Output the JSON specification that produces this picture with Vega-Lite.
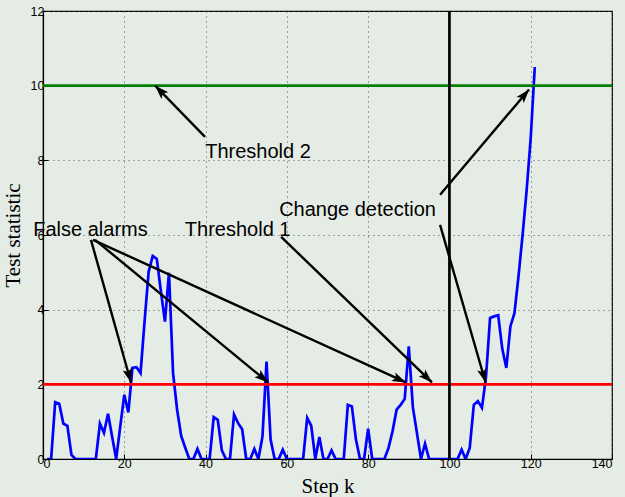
{
  "$schema": "https://vega.github.io/schema/vega-lite/v6.json",
  "width": 569,
  "height": 448,
  "autosize": "none",
  "padding": {"left": 43, "top": 11, "right": 13, "bottom": 38},
  "background": "#e5ece5",
  "config": {
    "view": {"stroke": "#000000", "strokeWidth": 1.2, "fill": "#e5ece5"},
    "axis": {
      "domainColor": "#000000", "domainWidth": 1.2,
      "tickColor": "#000000", "tickSize": -5, "tickWidth": 1,
      "gridColor": "#555555", "gridDash": [1, 4], "gridWidth": 1, "gridOpacity": 1,
      "labelFont": "Liberation Sans", "labelFontSize": 12.5, "labelColor": "#000000",
      "titleFont": "Liberation Serif", "titleFontSize": 21, "titleFontWeight": "normal", "titleColor": "#000000"
    }
  },
  "datasets": {
    "stat": [
      {"k":1,"v":0},{"k":2,"v":0},{"k":3,"v":1.52},{"k":4,"v":1.48},{"k":5,"v":0.95},{"k":6,"v":0.89},{"k":7,"v":0.11},{"k":8,"v":0},{"k":9,"v":0},{"k":10,"v":0},
      {"k":11,"v":0},{"k":12,"v":0},{"k":13,"v":0},{"k":14,"v":0.95},{"k":15,"v":0.7},{"k":16,"v":1.21},{"k":17,"v":0.6},{"k":18,"v":0},{"k":19,"v":0.86},{"k":20,"v":1.72},
      {"k":21,"v":1.25},{"k":22,"v":2.44},{"k":23,"v":2.46},{"k":24,"v":2.3},{"k":25,"v":3.7},{"k":26,"v":5.02},{"k":27,"v":5.44},{"k":28,"v":5.36},{"k":29,"v":4.5},{"k":30,"v":3.68},
      {"k":31,"v":4.99},{"k":32,"v":2.3},{"k":33,"v":1.32},{"k":34,"v":0.62},{"k":35,"v":0.3},{"k":36,"v":0},{"k":37,"v":0},{"k":38,"v":0.27},{"k":39,"v":0},{"k":40,"v":0},
      {"k":41,"v":0},{"k":42,"v":1.12},{"k":43,"v":1.05},{"k":44,"v":0.23},{"k":45,"v":0},{"k":46,"v":0},{"k":47,"v":1.19},{"k":48,"v":0.96},{"k":49,"v":0.8},{"k":50,"v":0},
      {"k":51,"v":0},{"k":52,"v":0.27},{"k":53,"v":0},{"k":54,"v":0.6},{"k":55,"v":2.61},{"k":56,"v":0.52},{"k":57,"v":0},{"k":58,"v":0},{"k":59,"v":0.25},{"k":60,"v":0},
      {"k":61,"v":0},{"k":62,"v":0},{"k":63,"v":0},{"k":64,"v":0},{"k":65,"v":1.1},{"k":66,"v":0.89},{"k":67,"v":0},{"k":68,"v":0.59},{"k":69,"v":0},{"k":70,"v":0},
      {"k":71,"v":0.23},{"k":72,"v":0},{"k":73,"v":0},{"k":74,"v":0},{"k":75,"v":1.45},{"k":76,"v":1.41},{"k":77,"v":0.52},{"k":78,"v":0},{"k":79,"v":0},{"k":80,"v":0.81},
      {"k":81,"v":0},{"k":82,"v":0},{"k":83,"v":0},{"k":84,"v":0},{"k":85,"v":0.29},{"k":86,"v":0.74},{"k":87,"v":1.32},{"k":88,"v":1.45},{"k":89,"v":1.61},{"k":90,"v":3.02},
      {"k":91,"v":1.39},{"k":92,"v":0.7},{"k":93,"v":0},{"k":94,"v":0.41},{"k":95,"v":0},{"k":96,"v":0},{"k":97,"v":0},{"k":98,"v":0},{"k":99,"v":0},{"k":100,"v":0},
      {"k":101,"v":0},{"k":102,"v":0},{"k":103,"v":0.25},{"k":104,"v":0},{"k":105,"v":0.3},{"k":106,"v":1.45},{"k":107,"v":1.55},{"k":108,"v":1.37},{"k":109,"v":2.2},{"k":110,"v":3.78},
      {"k":111,"v":3.82},{"k":112,"v":3.85},{"k":113,"v":2.95},{"k":114,"v":2.44},{"k":115,"v":3.55},{"k":116,"v":3.91},{"k":117,"v":4.9},{"k":118,"v":6.0},{"k":119,"v":7.2},{"k":120,"v":8.6},
      {"k":121,"v":10.5}
    ],
    "arrows": [
      {"tx":39.86,"ty":8.63,"hx":27.6,"hy":10.0},
      {"tx":97.7,"ty":7.08,"hx":119.6,"hy":9.9},
      {"tx":97.7,"ty":6.27,"hx":108.9,"hy":2.05},
      {"tx":11.8,"ty":5.87,"hx":21.65,"hy":2.05},
      {"tx":12.8,"ty":5.87,"hx":55.4,"hy":2.05},
      {"tx":12.3,"ty":5.87,"hx":89.3,"hy":2.05},
      {"tx":58.6,"ty":5.95,"hx":95.7,"hy":2.05}
    ],
    "labels": [
      {"x":39.9,"y":8.23,"text":"Threshold 2"},
      {"x":58.1,"y":6.67,"text":"Change detection"},
      {"x":34.9,"y":6.14,"text":"Threshold 1"},
      {"x":-2.4,"y":6.14,"text":"False alarms"}
    ]
  },
  "layer": [
    {
      "data": {"name": "stat"},
      "mark": {"type": "line", "color": "#0000ff", "strokeWidth": 2.7, "clip": true},
      "encoding": {
        "x": {"field": "k", "type": "quantitative", "scale": {"domain": [0, 140], "nice": false},
              "axis": {"values": [0,20,40,60,80,100,120,140], "title": "Step k", "grid": true, "labelPadding": 3, "titlePadding": 6}},
        "y": {"field": "v", "type": "quantitative", "scale": {"domain": [0, 12], "nice": false},
              "axis": {"values": [0,2,4,6,8,10,12], "title": "Test statistic", "grid": true, "labelPadding": 4, "titlePadding": 7}}
      }
    },
    {
      "data": {"values": [{"y": 10}]},
      "mark": {"type": "rule", "color": "#008000", "strokeWidth": 2.7},
      "encoding": {"y": {"field": "y", "type": "quantitative"}}
    },
    {
      "data": {"values": [{"y": 2}]},
      "mark": {"type": "rule", "color": "#ff0000", "strokeWidth": 2.7},
      "encoding": {"y": {"field": "y", "type": "quantitative"}}
    },
    {
      "data": {"values": [{"x": 100}]},
      "mark": {"type": "rule", "color": "#000000", "strokeWidth": 2.7},
      "encoding": {"x": {"field": "x", "type": "quantitative"}}
    },
    {
      "data": {"name": "arrows"},
      "mark": {"type": "rule", "color": "#000000", "strokeWidth": 2.4},
      "encoding": {
        "x": {"field": "tx", "type": "quantitative"},
        "y": {"field": "ty", "type": "quantitative"},
        "x2": {"field": "hx"},
        "y2": {"field": "hy"}
      }
    },
    {
      "data": {"name": "arrows"},
      "transform": [
        {"calculate": "(atan2((datum.hx - datum.tx) * 569 / 140, (datum.hy - datum.ty) * 448 / 12) * 180 / PI + 360) % 360", "as": "ang"}
      ],
      "mark": {"type": "point", "shape": "M0,0L-0.55,1.6L0,1.25L0.55,1.6Z", "filled": true, "color": "#000000", "opacity": 1, "size": 300},
      "encoding": {
        "x": {"field": "hx", "type": "quantitative"},
        "y": {"field": "hy", "type": "quantitative"},
        "angle": {"field": "ang", "type": "quantitative", "scale": null}
      }
    },
    {
      "data": {"name": "labels"},
      "mark": {"type": "text", "align": "left", "baseline": "middle", "font": "Liberation Sans", "fontSize": 20, "color": "#000000"},
      "encoding": {
        "x": {"field": "x", "type": "quantitative"},
        "y": {"field": "y", "type": "quantitative"},
        "text": {"field": "text"}
      }
    }
  ]
}
